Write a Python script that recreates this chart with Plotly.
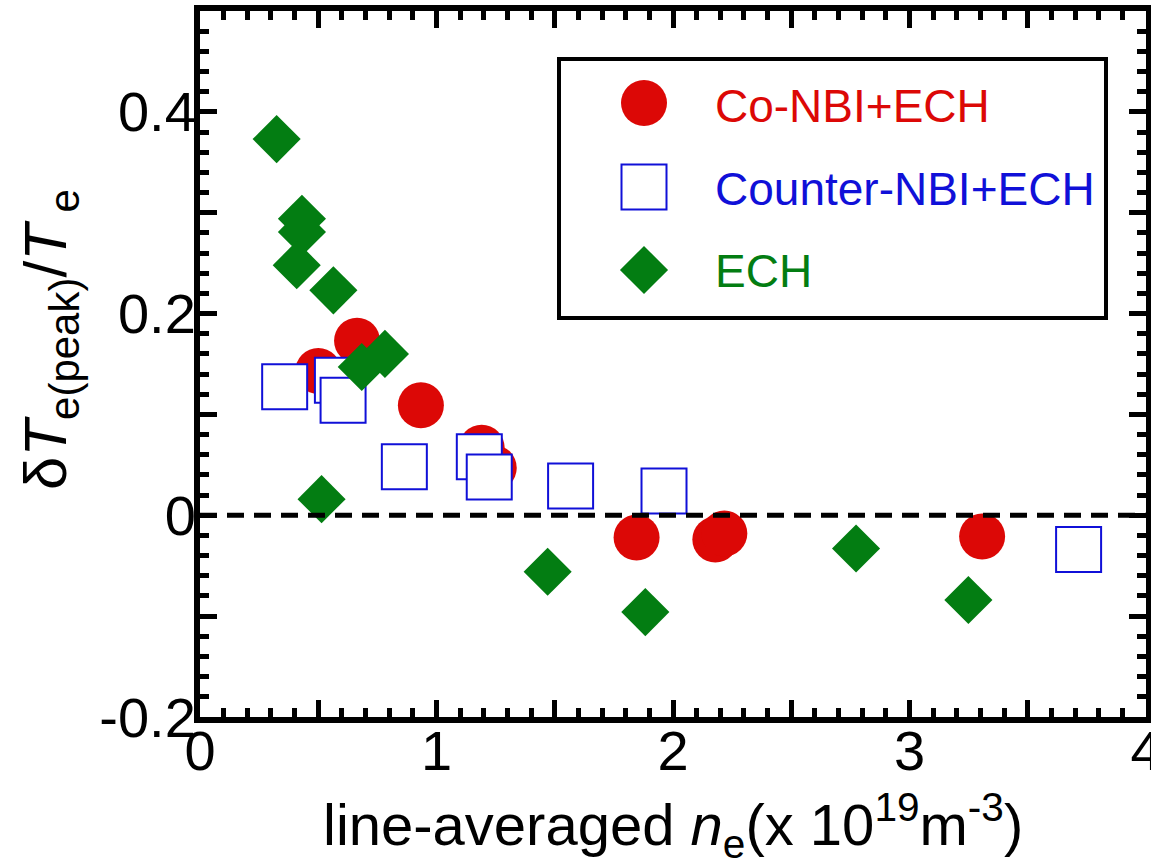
import plotly.graph_objects as go

# Co-NBI + ECH
co_ne = [0.50, 0.664, 0.934, 1.191, 1.242, 1.846, 2.179, 2.217, 3.307]
co_dt = [0.143, 0.173, 0.109, 0.067, 0.047, -0.022, -0.024, -0.018, -0.021]

# Counter-NBI + ECH
ctr_ne = [0.358, 0.581, 0.605, 0.864, 1.181, 1.223, 1.567, 1.962, 3.715]
ctr_dt = [0.1275, 0.134, 0.114, 0.048, 0.058, 0.038, 0.029, 0.024, -0.034]

# ECH only
ech_ne = [0.324, 0.431, 0.431, 0.409, 0.564, 0.684, 0.782, 0.514, 1.470, 1.883, 2.774, 3.249]
ech_dt = [0.373, 0.294, 0.281, 0.248, 0.223, 0.147, 0.160, 0.016, -0.056, -0.096, -0.033, -0.084]

series_names = ["Co-NBI+ECH", "Counter-NBI+ECH", "ECH"]

x_tickvals = [0, 0.5, 1, 1.5, 2, 2.5, 3, 3.5, 4]
x_ticktext = ["0", "", "1", "", "2", "", "3", "", "4"]
y_tickvals = [-0.2, -0.1, 0, 0.1, 0.2, 0.3, 0.4, 0.5]
y_ticktext = ["-0.2", "", "0", "", "0.2", "", "0.4", ""]

RED = "#DC0806"
BLUE = "#1010D8"
GREEN = "#037D12"
FONT = "Liberation Sans, Arial, sans-serif"

W, H = 1151, 868
ML, MR, MT, MB = 200, 5, 11, 151
PW, PH = W - ML - MR, H - MT - MB


def px_x(px):
    return (px - ML) / PW


def px_y(py):
    return (H - MB - py) / PH


fig = go.Figure()

fig.add_trace(go.Scatter(
    x=co_ne, y=co_dt, mode="markers", name=series_names[0],
    marker=dict(symbol="circle", size=46, color=RED, line=dict(width=0)),
    cliponaxis=False,
))
fig.add_trace(go.Scatter(
    x=ctr_ne, y=ctr_dt, mode="markers", name=series_names[1],
    marker=dict(symbol="square", size=45, color="white", line=dict(width=2, color=BLUE)),
    cliponaxis=False,
))
fig.add_trace(go.Scatter(
    x=ech_ne, y=ech_dt, mode="markers", name=series_names[2],
    marker=dict(symbol="diamond", size=37, color=GREEN, line=dict(width=0)),
    cliponaxis=False,
))

# legend keys drawn on an overlay axis spanning the plot area
key_y = [px_y(103), px_y(187), px_y(270)]
key_style = [
    dict(symbol="circle", size=46, color=RED, line=dict(width=0)),
    dict(symbol="square", size=45, color="white", line=dict(width=2, color=BLUE)),
    dict(symbol="diamond", size=37, color=GREEN, line=dict(width=0)),
]
for ky, ms in zip(key_y, key_style):
    fig.add_trace(go.Scatter(
        x=[px_x(644)], y=[ky], mode="markers", marker=ms,
        xaxis="x2", yaxis="y2", showlegend=False, hoverinfo="skip", cliponaxis=False,
    ))

text_colors = [RED, BLUE, GREEN]
text_y = [px_y(106), px_y(189), px_y(271)]
for name, col, ty in zip(series_names, text_colors, text_y):
    fig.add_annotation(
        x=px_x(713), y=ty, xref="paper", yref="paper", text=name, showarrow=False,
        xanchor="left", yanchor="middle",
        font=dict(family=FONT, size=46, color=col),
    )

# legend frame
fig.add_shape(type="rect", xref="paper", yref="paper",
              x0=px_x(559), x1=px_x(1106), y0=px_y(318), y1=px_y(59),
              line=dict(color="black", width=4), fillcolor="rgba(0,0,0,0)", layer="above")

# dashed zero line
fig.add_shape(type="line", xref="paper", yref="y", x0=0, x1=1, y0=0, y1=0,
              line=dict(color="black", width=5, dash="17px,10px"), layer="above")

axis_common = dict(
    showgrid=False, zeroline=False, showline=True, linecolor="black", linewidth=6,
    mirror="ticks", ticks="inside", ticklen=17, tickwidth=5, tickcolor="black",
    tickmode="array", ticklabeloverflow="allow", automargin=False,
)

fig.update_layout(
    width=W, height=H,
    margin=dict(l=ML, r=MR, t=MT, b=MB, pad=0, autoexpand=False),
    paper_bgcolor="white", plot_bgcolor="white",
    showlegend=False,
    xaxis=dict(
        range=[0, 4], tickvals=x_tickvals, ticktext=x_ticktext,
        tickfont=dict(family=FONT, size=56, color="black"),
        ticklabelstandoff=-20,
        minor=dict(tickmode="linear", tick0=0, dtick=0.1, ticks="inside", ticklen=9,
                   tickwidth=5, tickcolor="black"),
        **axis_common,
    ),
    yaxis=dict(
        range=[-0.2, 0.5], tickvals=y_tickvals, ticktext=y_ticktext,
        tickfont=dict(family=FONT, size=56, color="black"),
        ticklabelstandoff=-13,
        minor=dict(tickmode="linear", tick0=0, dtick=0.02, ticks="inside", ticklen=9,
                   tickwidth=5, tickcolor="black"),
        **axis_common,
    ),
    xaxis2=dict(range=[0, 1], overlaying="x", anchor="y2", visible=False),
    yaxis2=dict(range=[0, 1], overlaying="y", anchor="x2", visible=False),
)

# axis titles
fig.add_annotation(
    x=0.5, y=px_y(826), xref="paper", yref="paper", showarrow=False,
    xanchor="center", yanchor="middle",
    text="line-averaged <i>n</i><sub>e</sub>(x 10<sup>19</sup>m<sup>-3</sup>)",
    font=dict(family=FONT, size=58, color="black"),
)
fig.add_annotation(
    x=px_x(50), y=px_y(340), xref="paper", yref="paper", showarrow=False,
    xanchor="center", yanchor="middle", textangle=-90,
    text="δ<i>T</i><sub>e(peak)</sub>/<i>T</i><sub> e</sub>",
    font=dict(family=FONT, size=60, color="black"),
)

fig.write_html("out.html")
